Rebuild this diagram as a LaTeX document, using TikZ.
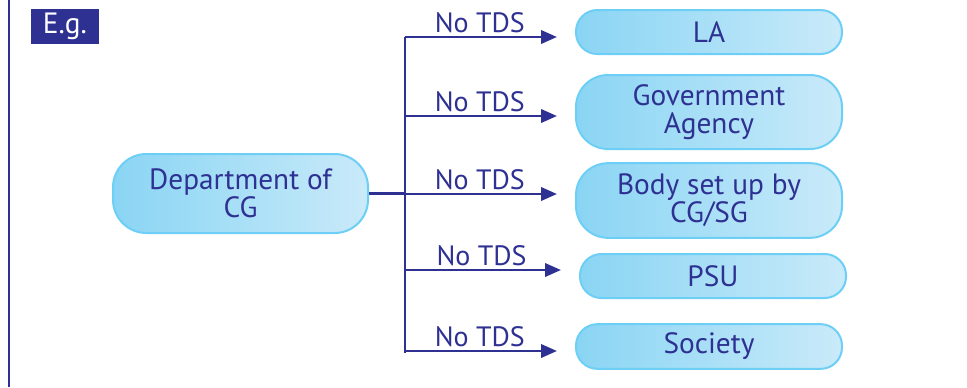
\documentclass[tikz,border=0pt]{standalone}
\usepackage{fontspec}
\setmainfont{PT Sans}
\usetikzlibrary{calc, arrows.meta, positioning}
\definecolor{egblue}{HTML}{2E3192}
\definecolor{boxleft}{HTML}{8AD5F4}
\definecolor{boxright}{HTML}{C9EAF9}
\definecolor{boxline}{HTML}{6DCFF6}
\tikzset{
  entity/.style={draw=boxline, line width=1.5pt, left color=boxleft, right color=boxright,
    text=egblue, align=center, inner sep=0pt, minimum width=199.5pt,
    font=\fontsize{22}{21}\selectfont},
  flow/.style={draw=egblue, line width=2pt},
  notds/.style={above, pos=.44, inner sep=2pt, text=egblue, font=\fontsize{21}{21}\selectfont},
}
\begin{document}
\begin{tikzpicture}[x=.75pt, y=-.75pt]
  \useasboundingbox (0,0) rectangle (967,387);
  \draw[flow] (9,0) -- (9,387);
  \node[fill=egblue, text=white, minimum width=51pt, minimum height=26pt, inner sep=0pt,
    font=\fontsize{22}{21}\selectfont] (eg) at (65,26.5) {E.g.};
  \node[entity, minimum width=191.25pt, minimum height=59.25pt, rounded corners=25pt] (dept) at (240.5,193.5) {Department of\\CG};
  \node[entity, minimum height=33pt, rounded corners=16pt] (la) at (709,32) {LA};
  \node[entity, minimum height=55.5pt, rounded corners=24pt] (gov) at (709,112) {Government\\Agency};
  \node[entity, minimum height=56pt, rounded corners=24pt] (body) at (709,200.5) {Body set up by\\CG/SG};
  \node[entity, minimum height=33pt, rounded corners=16pt] (psu) at (713,276) {PSU};
  \node[entity, minimum height=33.5pt, rounded corners=16pt] (soc) at (709,346.5) {Society};
  \foreach \y/\target [count=\i] in {37/la, 116/gov, 194/body, 270/psu, 351/soc}{
    \coordinate (t\i) at (405,\y);
    \draw[flow, -{Triangle[length=12pt, width=10pt]}, shorten >=13.5pt] (t\i) -- node[notds] {No TDS} (t\i -| \target.west);
  }
  \draw[flow] (t1) -- ($(t5)+(0,2)$);
  \draw[flow] (dept.east) -- (dept.east -| t3);
\end{tikzpicture}
\end{document}
